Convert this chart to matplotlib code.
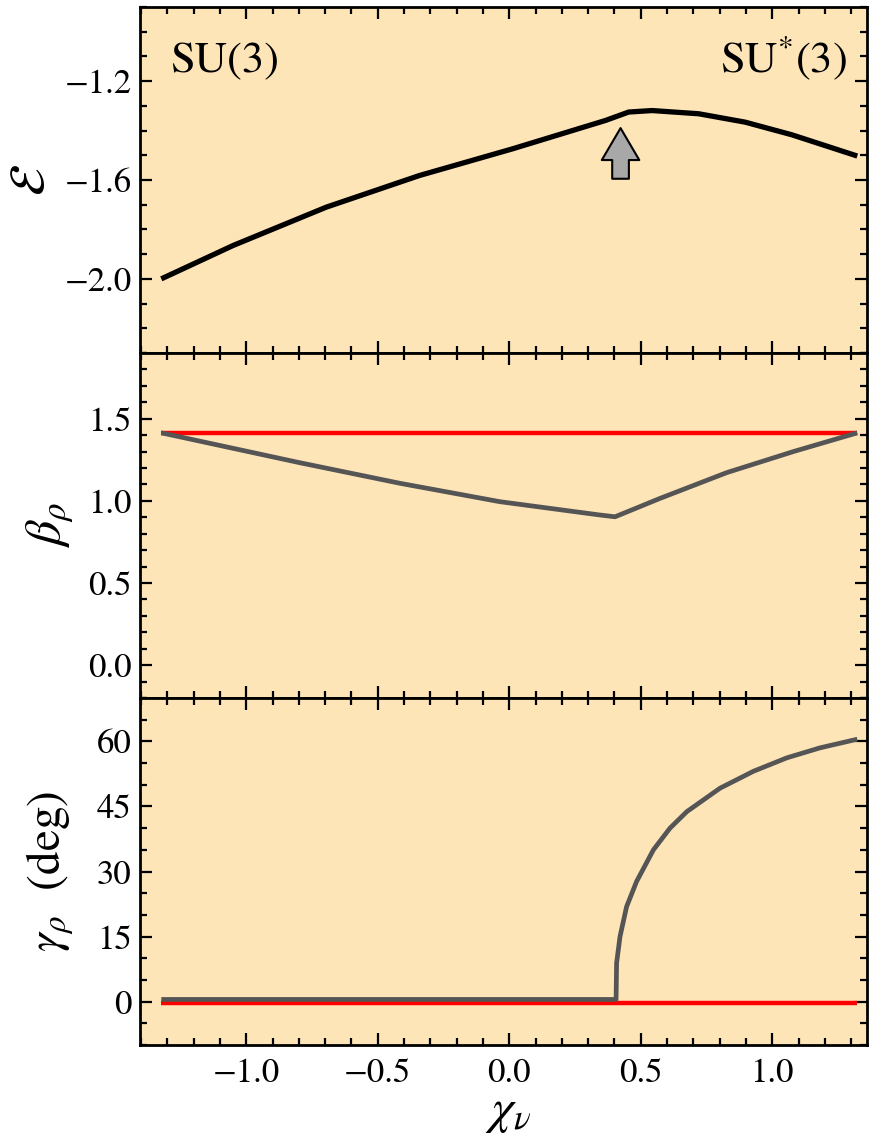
import matplotlib
matplotlib.use("Agg")
import matplotlib.pyplot as plt
from matplotlib.ticker import MultipleLocator, FuncFormatter

plt.rcParams["font.family"] = ["STIXGeneral", "DejaVu Serif"]
plt.rcParams["mathtext.fontset"] = "stix"

# energy curve
chi_E = [-1.323, -1.05, -0.696, -0.342, 0.012, 0.366, 0.454, 0.543, 0.720, 0.897, 1.074, 1.323]
E = [-2.0, -1.865, -1.710, -1.582, -1.474, -1.359, -1.325, -1.319, -1.332, -1.366, -1.417, -1.503]

# beta: red (flat) and grey
chi_red = [-1.323, 1.323]
beta_red = [1.414, 1.414]
chi_b = [-1.323, -0.796, -0.416, -0.036, 0.344, 0.402, 0.573, 0.827, 1.080, 1.323]
beta_grey = [1.414, 1.232, 1.107, 0.995, 0.914, 0.903, 1.015, 1.172, 1.300, 1.414]

# gamma: red (flat) and grey
gamma_red = [-0.4, -0.4]
chi_g = [-1.323, 0.406, 0.408, 0.421, 0.446, 0.484, 0.548, 0.611, 0.675, 0.801, 0.928, 1.055, 1.181, 1.323]
gamma_grey = [0.5, 0.5, 8.9, 15.0, 21.9, 27.7, 35.0, 40.0, 43.8, 49.2, 53.1, 56.2, 58.5, 60.5]

arrow_chi = 0.423
arrow_E = (-1.595, -1.39)

bg = "#fde5b8"
grey = "#555555"
red = "#ff0000"


def fmt1(v, pos):
    return ("%.1f" % v).replace("-", "\u2212")


def fmt0(v, pos):
    return ("%d" % round(v)).replace("-", "\u2212")


fig = plt.figure(figsize=(8.73, 11.35), dpi=100)
W = 873.0
H = 1135.0
left = 140 / W
width = (867 - 140) / W
ax1 = fig.add_axes([left, 1 - 353 / H, width, 346 / H])
ax2 = fig.add_axes([left, 1 - 698 / H, width, 345 / H], sharex=ax1)
ax3 = fig.add_axes([left, 1 - 1045 / H, width, 347 / H], sharex=ax1)

for ax in (ax1, ax2, ax3):
    ax.set_facecolor(bg)
    ax.tick_params(which="both", direction="in", top=True, right=True,
                   labelsize=25, width=1.6)
    ax.tick_params(which="major", length=8.5, pad=6)
    ax.tick_params(which="minor", length=5)
    for s in ax.spines.values():
        s.set_linewidth(2)
    ax.xaxis.set_major_locator(MultipleLocator(0.5))
    ax.xaxis.set_minor_locator(MultipleLocator(0.1))

ax1.set_xlim(-1.404, 1.36)

# top: energy
ax1.plot(chi_E, E, color="black", lw=3.8, solid_capstyle="butt")
ax1.set_ylim(-2.3, -0.9)
ax1.yaxis.set_major_locator(MultipleLocator(0.4))
ax1.yaxis.set_minor_locator(MultipleLocator(0.1))
ax1.set_yticks([-2.0, -1.6, -1.2])
ax1.yaxis.set_major_formatter(FuncFormatter(fmt1))
ax1.tick_params(labelbottom=False)
ax1.annotate("", xy=(arrow_chi, arrow_E[1]), xytext=(arrow_chi, arrow_E[0]),
             arrowprops=dict(arrowstyle="simple,head_length=1.15,head_width=1.35,tail_width=0.6",
                             fc="#a8a8a8", ec="black", lw=1.5, shrinkA=0, shrinkB=0,
                             mutation_scale=20))
ax1.text(0.041, 0.812, "SU(3)", transform=ax1.transAxes, fontsize=32,
         ha="left", va="baseline")
ax1.text(0.972, 0.812, r"$\mathrm{SU}^{*}(3)$", transform=ax1.transAxes, fontsize=32,
         ha="right", va="baseline")
ax1.set_ylabel(r"$\mathcal{E}$", fontsize=36, va="center")
ax1.yaxis.set_label_coords(-0.147, 0.5)

# middle: beta
ax2.plot(chi_red, beta_red, color=red, lw=3.2, solid_capstyle="butt")
ax2.plot(chi_b, beta_grey, color=grey, lw=3.4, solid_capstyle="butt")
ax2.set_ylim(-0.2, 1.9)
ax2.yaxis.set_major_locator(MultipleLocator(0.5))
ax2.yaxis.set_minor_locator(MultipleLocator(0.1))
ax2.yaxis.set_major_formatter(FuncFormatter(fmt1))
ax2.tick_params(labelbottom=False)
ax2.set_ylabel(r"$\beta_\rho$", fontsize=36, va="center")
ax2.yaxis.set_label_coords(-0.124, 0.5)

# bottom: gamma
ax3.plot(chi_red, gamma_red, color=red, lw=3.2, solid_capstyle="butt")
ax3.plot(chi_g, gamma_grey, color=grey, lw=3.4, solid_capstyle="butt")
ax3.set_ylim(-10, 70)
ax3.yaxis.set_major_locator(MultipleLocator(15))
ax3.yaxis.set_minor_locator(MultipleLocator(5))
ax3.yaxis.set_major_formatter(FuncFormatter(fmt0))
ax3.xaxis.set_major_formatter(FuncFormatter(fmt1))
ax3.tick_params(axis="x", pad=9)
ax3.set_ylabel(r"$\gamma_\rho$  (deg)", fontsize=34, va="center")
ax3.yaxis.set_label_coords(-0.124, 0.5)
ax3.set_xlabel(r"$\chi_\nu$", fontsize=36, va="center")
ax3.xaxis.set_label_coords(0.506, -0.193)

fig.savefig("out.png", dpi=100)
